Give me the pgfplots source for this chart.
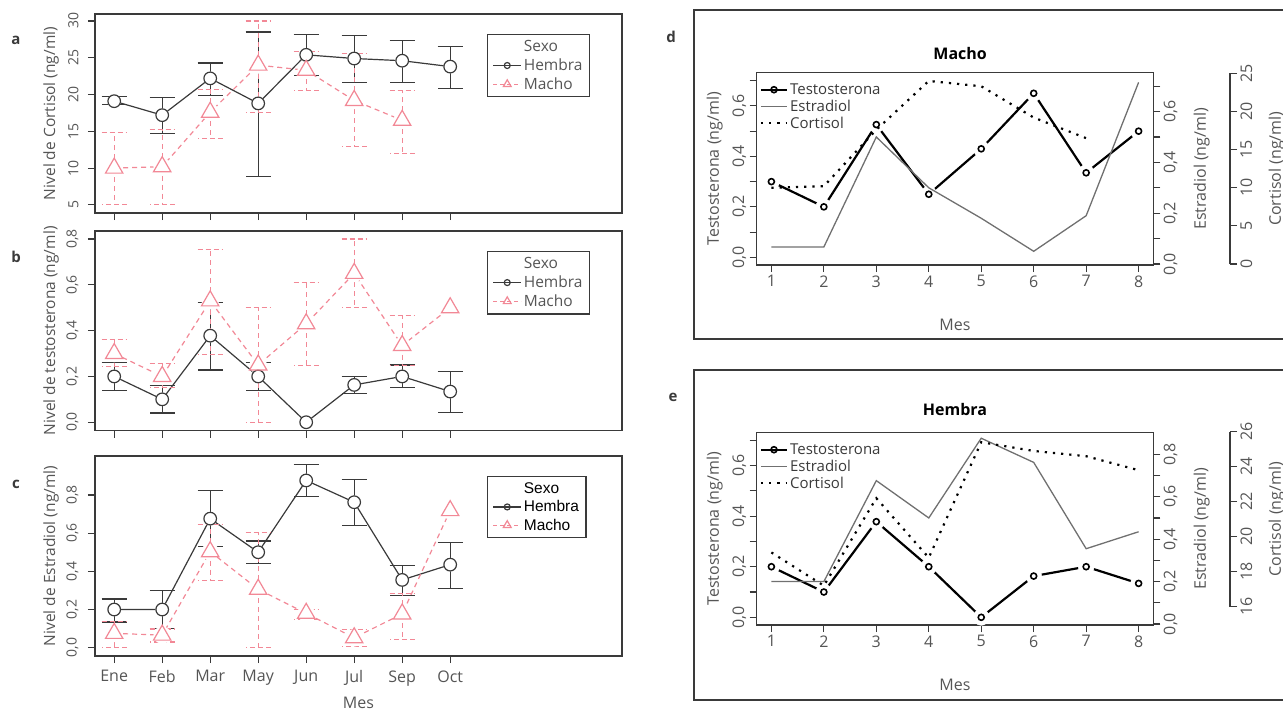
\documentclass[border=0pt]{standalone}
\usepackage{fontspec}
\setmainfont{Open Sans}
\newfontfamily\arialfont{Liberation Sans}
\usepackage{pgfplots}
\usepackage{pgfplotstable}
\pgfplotsset{compat=1.18}

\definecolor{ink}{HTML}{3A3A3A}
\definecolor{txt}{HTML}{555555}
\definecolor{rosa}{HTML}{F28896}
\definecolor{estr}{HTML}{707070}
\newcommand{\fs}[1]{\fontsize{#1}{#1}\selectfont}

% a: cortisol, b: testosterona, c: estradiol (media, error + y error -)
\pgfplotstableread{
x hy hp hm my mp mm
0 19.1 0.6 0.5 10.0 4.8 5.0
1 17.2 2.4 2.5 10.2 5.0 5.2
2 22.2 2.1 2.3 17.6 3.1 3.6
3 18.8 9.7 9.9 24.0 6.0 6.4
4 25.4 2.8 2.8 23.3 2.6 2.8
5 24.9 3.1 3.3 19.2 6.4 6.3
6 24.6 2.7 3.0 16.5 4.0 4.5
7 23.8 2.7 3.0 nan nan nan
}\tcort
\pgfplotstableread{
x hy hp hm my mp mm
0 0.20 0.06 0.06 0.30 0.062 0.057
1 0.10 0.06 0.06 0.20 0.058 0.05
2 0.378 0.145 0.15 0.53 0.225 0.233
3 0.20 0.06 0.06 0.25 0.252 0.25
4 0.0 0 0 0.43 0.18 0.183
5 0.163 0.037 0.039 0.65 0.15 0.148
6 0.20 0.05 0.05 0.335 0.133 0.089
7 0.134 0.086 0.09 0.50 0 0
}\ttest
\pgfplotstableread{
x hy hp hm my mp mm
0 0.20 0.055 0.065 0.075 0.061 0.075
1 0.20 0.10 0.10 0.066 0.032 0.036
2 0.676 0.147 0.147 0.503 0.143 0.153
3 0.50 0.059 0.058 0.306 0.298 0.306
4 0.876 0.085 0.085 0.18 0.02 0.03
5 0.762 0.117 0.124 0.052 0.044 0.046
6 0.355 0.075 0.083 0.177 0.108 0.133
7 0.435 0.117 0.126 0.718 0 0
}\testr
% d: macho, e: hembra (mes, testosterona, estradiol, cortisol)
\pgfplotstableread{
x t e c
1 0.30 0.067 10.0
2 0.20 0.067 10.2
3 0.526 0.50 17.6
4 0.25 0.30 24.0
5 0.43 0.18 23.3
6 0.65 0.05 19.2
7 0.335 0.19 16.5
8 0.50 0.715 nan
}\tmacho
\pgfplotstableread{
x t e c
1 0.20 0.20 19.1
2 0.10 0.20 17.2
3 0.378 0.676 22.2
4 0.20 0.50 18.8
5 0.0 0.876 25.4
6 0.163 0.762 24.9
7 0.20 0.355 24.6
8 0.134 0.435 23.8
}\themb

\pgfplotsset{
  panel/.style={
    scale only axis, anchor=north west, width=527pt,
    xmin=-0.4, xmax=10.58, xtick={0,...,7},
    axis line style={ink, line width=1.2pt},
    every tick/.style={ink, line width=1.1pt},
    tick align=outside, major tick length=7pt,
    xtick pos=bottom, ytick pos=left,
    yticklabel style={rotate=90, anchor=south, font=\fs{14}, text=txt},
    yticklabel shift=6pt,
    xticklabel style={font=\fs{16}, text=txt, yshift=-4pt},
    ylabel style={font=\fs{15.5}, text=txt, at={(axis description cs:-0.0835,0.5)}, anchor=center},
    xlabel style={font=\fs{16}, text=txt, at={(axis description cs:0.5,-0.235)}, anchor=center},
    /pgf/number format/assume math mode=true,
    legend style={at={(axis description cs:0.744,0.899)}, anchor=north west,
      draw=ink, line width=1.1pt, font=\fs{15.5}, text=txt, inner xsep=5pt, inner ysep=4pt,
      row sep=1.5pt, cells={anchor=west}},
    legend image code/.code={\draw[##1, mark repeat=2, mark phase=2]
      plot coordinates {(0pt,0pt) (14pt,0pt) (28pt,0pt)};},
  },
  comma1/.style={/pgf/number format/.cd, use comma, fixed, fixed zerofill, precision=1},
  hline/.style={ink, line width=1.2pt, no marks, forget plot},
  mline/.style={rosa, line width=1.2pt, no marks, dash pattern=on 5pt off 4pt, forget plot},
  hhalo/.style={only marks, mark=*, mark size=6.5pt, mark options={draw=white, fill=white}, forget plot},
  mhalo/.style={only marks, mark=*, mark size=8.5pt, mark options={draw=white, fill=white}, forget plot},
  herr/.style={draw=none, no marks, forget plot, error bars/.cd, y dir=both, y explicit,
    error bar style={draw=ink, line width=1.2pt, solid},
    error mark=-,
    error mark options={draw=ink, line width=1.2pt, mark size=12.5pt, rotate=90, solid}},
  merr/.style={draw=none, no marks, forget plot, error bars/.cd, y dir=both, y explicit,
    error bar style={draw=rosa, line width=1.1pt, dash pattern=on 5pt off 4pt},
    error mark=-,
    error mark options={draw=rosa, line width=1.1pt, mark size=12.5pt, rotate=90,
      dash pattern=on 5pt off 3pt}},
  hmark/.style={only marks, mark=o, mark size=6.3pt, mark options={ink, line width=1.2pt}, forget plot},
  mmark/.style={only marks, mark=triangle, mark size=10pt, mark options={rosa, line width=1.2pt, solid}, forget plot},
  hp/.style={
    scale only axis, anchor=north west, width=396.6pt, height=192.3pt,
    xmin=0.72, xmax=8.28,
    axis line style={ink, line width=1.2pt},
    every tick/.style={ink, line width=1.1pt},
    tick align=outside, major tick length=7pt, minor tick length=7pt,
    yticklabel style={rotate=90, font=\fs{16}, text=txt},
    xticklabel style={font=\fs{16}, text=txt},
    ylabel style={font=\fs{16}, text=txt},
    xlabel style={font=\fs{16}, text=txt, at={(axis description cs:0.5,-0.311)}, anchor=center},
    /pgf/number format/assume math mode=true,
  },
  hleg/.style={
    legend style={at={(axis description cs:0.005,0.96)}, anchor=north west, draw=none, fill=none,
      font=\fs{15}, text=ink, row sep=0pt, inner sep=1pt, cells={anchor=west}},
    legend image code/.code={\draw[##1, mark repeat=2, mark phase=2]
      plot coordinates {(0pt,0pt) (13pt,0pt) (26pt,0pt)};},
  },
  testo/.style={black, line width=2.2pt, no marks},
  thalo/.style={only marks, mark=*, mark size=8pt, mark options={draw=white, fill=white}},
  tmark/.style={only marks, mark=o, mark size=3pt, mark options={black, line width=1.6pt}},
  estline/.style={estr, line width=1.3pt, no marks},
  cortline/.style={black, line width=2.2pt, no marks, dash pattern=on 2.2pt off 6pt},
}

\newcommand{\sexo}[3]{%
  \addplot[hline] table[x=x,y=hy]{#1};
  \addplot[hhalo] table[x=x,y=hy]{#1};
  \addplot[mline] table[x=x,y=my]{#1};
  \addplot[mhalo] table[x=x,y=my]{#1};
  \addplot[#2, herr] table[x=x,y=hy,y error plus=hp,y error minus=hm]{#1};
  \addplot[#3, merr] table[x=x,y=my,y error plus=mp,y error minus=mm]{#1};
  \addplot[hmark] table[x=x,y=hy]{#1};
  \addplot[mmark] table[x=x,y=my]{#1};
}
\newcommand{\sexoleg}{%
  \addlegendimage{empty legend}\addlegendentry{Sexo}
  \addlegendimage{ink, line width=1.2pt, mark=o, mark size=3pt}\addlegendentry{Hembra}
  \addlegendimage{rosa, line width=1.2pt, dash pattern=on 4pt off 3pt, mark=triangle, mark size=4.5pt, mark options={solid}}\addlegendentry{Macho}
}
\newcommand{\hormleg}{%
  \addlegendimage{black, line width=2.2pt, mark=o, mark size=3pt, mark options={line width=1.6pt}}
  \addlegendentry{Testosterona}
  \addlegendimage{estline}\addlegendentry{Estradiol}
  \addlegendimage{cortline}\addlegendentry{Cortisol}
}

\begin{document}
\begin{tikzpicture}
\useasboundingbox (0pt,0pt) rectangle (1283pt,-710pt);

% ---- a
\begin{axis}[panel, at={(95pt,-14pt)}, height=199pt,
  ymin=3.9, ymax=30.95, ytick={5,10,...,30}, xticklabels={},
  ylabel={Nivel de Cortisol (ng/ml)}]
  \sexo{\tcort}{}{}
  \sexoleg
\end{axis}
% ---- b
\begin{axis}[panel, comma1, at={(95pt,-231pt)}, height=199.7pt,
  ymin=-0.037, ymax=0.835, ytick={0,0.2,...,0.8}, xticklabels={},
  ylabel={Nivel de testosterona (ng/ml)}]
  \sexo{\ttest}{skip coords between index={4}{5}}{skip coords between index={7}{8}}
  \sexoleg
\end{axis}
% ---- c
\begin{axis}[panel, comma1, at={(95pt,-456pt)}, height=200pt,
  ymin=-0.0435, ymax=1.004, ytick={0,0.2,...,0.8},
  xticklabels={Ene,Feb,Mar,May,Jun,Jul,Sep,Oct},
  xlabel={Mes}, ylabel={Nivel de Estradiol (ng/ml)},
  legend style={font=\arialfont\fs{15.5}, text=black}]
  \sexo{\testr}{}{skip coords between index={7}{8}}
  \sexoleg
\end{axis}

\node[font=\bfseries\fs{15}, text=ink] at (16pt,-40pt) {a};
\node[font=\bfseries\fs{15}, text=ink] at (16pt,-257pt) {b};
\node[font=\bfseries\fs{15}, text=ink] at (16pt,-484pt) {c};
\node[font=\bfseries\fs{15}, text=ink] at (671pt,-37pt) {d};
\node[font=\bfseries\fs{15}, text=ink] at (673pt,-397pt) {e};

\draw[ink, line width=1.2pt] (694pt,-10pt) rectangle (1300pt,-339pt);
\draw[ink, line width=1.2pt] (694pt,-370pt) rectangle (1300pt,-700pt);

% ---- d (Macho)
\begin{axis}[hp, hleg, comma1, at={(756.7pt,-72.7pt)},
  ymin=-0.0304, ymax=0.7316, xtick={1,...,8}, xticklabels={1,2,3,4,5,6,7,8},
  ytick={0,0.2,0.4,0.6}, minor ytick={0.1,0.3,0.5,0.7},
  xtick pos=bottom, ytick pos=left, yticklabel style={anchor=south},
  xlabel={Mes}, ylabel={Testosterona (ng/ml)},
  ylabel style={at={(axis description cs:-0.106,0.5)}, anchor=center},
  title={Macho}, title style={font=\bfseries\fs{16}, text=black, at={(axis description cs:0.513,1.067)}, anchor=center}]
  \addplot[testo, forget plot] table[x=x,y=t]{\tmacho};
  \addplot[thalo, forget plot] table[x=x,y=t]{\tmacho};
  \addplot[tmark, forget plot] table[x=x,y=t]{\tmacho};
  \hormleg
\end{axis}
\begin{axis}[hp, comma1, at={(756.7pt,-72.7pt)},
  ymin=-0.004, ymax=0.753, axis x line=none, axis y line*=right,
  ytick={0,0.2,0.4,0.6}, minor ytick={0.1,0.3,0.5,0.7},
  yticklabel style={anchor=north},
  ylabel={Estradiol (ng/ml)},
  ylabel style={at={(axis description cs:1.122,0.5)}, anchor=center}]
  \addplot[estline] table[x=x,y=e]{\tmacho};
\end{axis}
\begin{axis}[hp, at={(756.7pt,-72.7pt)}, ymin=-0.131, ymax=25.08, hide axis]
  \addplot[cortline] table[x=x,y=c]{\tmacho};
\end{axis}
\begin{axis}[hp, at={(1220pt,-73.3pt)}, width=10pt, height=190.7pt,
  xmin=0, xmax=1, ymin=0, ymax=25, axis x line=none, axis y line*=right,
  ytick={0,5,...,25}, yticklabel style={anchor=north},
  ylabel={Cortisol (ng/ml)},
  ylabel style={at={(axis description cs:5.67,0.5)}, anchor=center}]
\end{axis}

% ---- e (Hembra)
\begin{axis}[hp, hleg, comma1, at={(756.7pt,-432.7pt)},
  ymin=-0.0304, ymax=0.7296, xtick={1,...,8}, xticklabels={1,2,3,4,5,6,7,8},
  ytick={0,0.2,0.4,0.6}, minor ytick={0.1,0.3,0.5,0.7},
  xtick pos=bottom, ytick pos=left, yticklabel style={anchor=south},
  xlabel={Mes}, ylabel={Testosterona (ng/ml)},
  ylabel style={at={(axis description cs:-0.106,0.5)}, anchor=center},
  title={Hembra}, title style={font=\bfseries\fs{16}, text=black, at={(axis description cs:0.5,1.092)}, anchor=center}]
  \addplot[testo, forget plot] table[x=x,y=t]{\themb};
  \addplot[thalo, forget plot] table[x=x,y=t]{\themb};
  \addplot[tmark, forget plot] table[x=x,y=t]{\themb};
  \hormleg
\end{axis}
\begin{axis}[hp, comma1, at={(756.7pt,-432.7pt)},
  ymin=-0.0047, ymax=0.902, axis x line=none, axis y line*=right,
  ytick={0,0.2,0.4,0.6,0.8}, minor ytick={0.1,0.3,0.5,0.7},
  yticklabel style={anchor=north},
  ylabel={Estradiol (ng/ml)},
  ylabel style={at={(axis description cs:1.122,0.5)}, anchor=center}]
  \addplot[estline] table[x=x,y=e]{\themb};
\end{axis}
\begin{axis}[hp, at={(756.7pt,-432.7pt)}, ymin=14.954, ymax=25.943, hide axis]
  \addplot[cortline] table[x=x,y=c]{\themb};
\end{axis}
\begin{axis}[hp, at={(1220pt,-431.7pt)}, width=10pt, height=175pt,
  xmin=0, xmax=1, ymin=16, ymax=26, axis x line=none, axis y line*=right,
  ytick={16,18,...,26}, yticklabel style={anchor=north},
  ylabel={Cortisol (ng/ml)},
  ylabel style={at={(axis description cs:5.67,0.5)}, anchor=center}]
\end{axis}
\end{tikzpicture}
\end{document}
